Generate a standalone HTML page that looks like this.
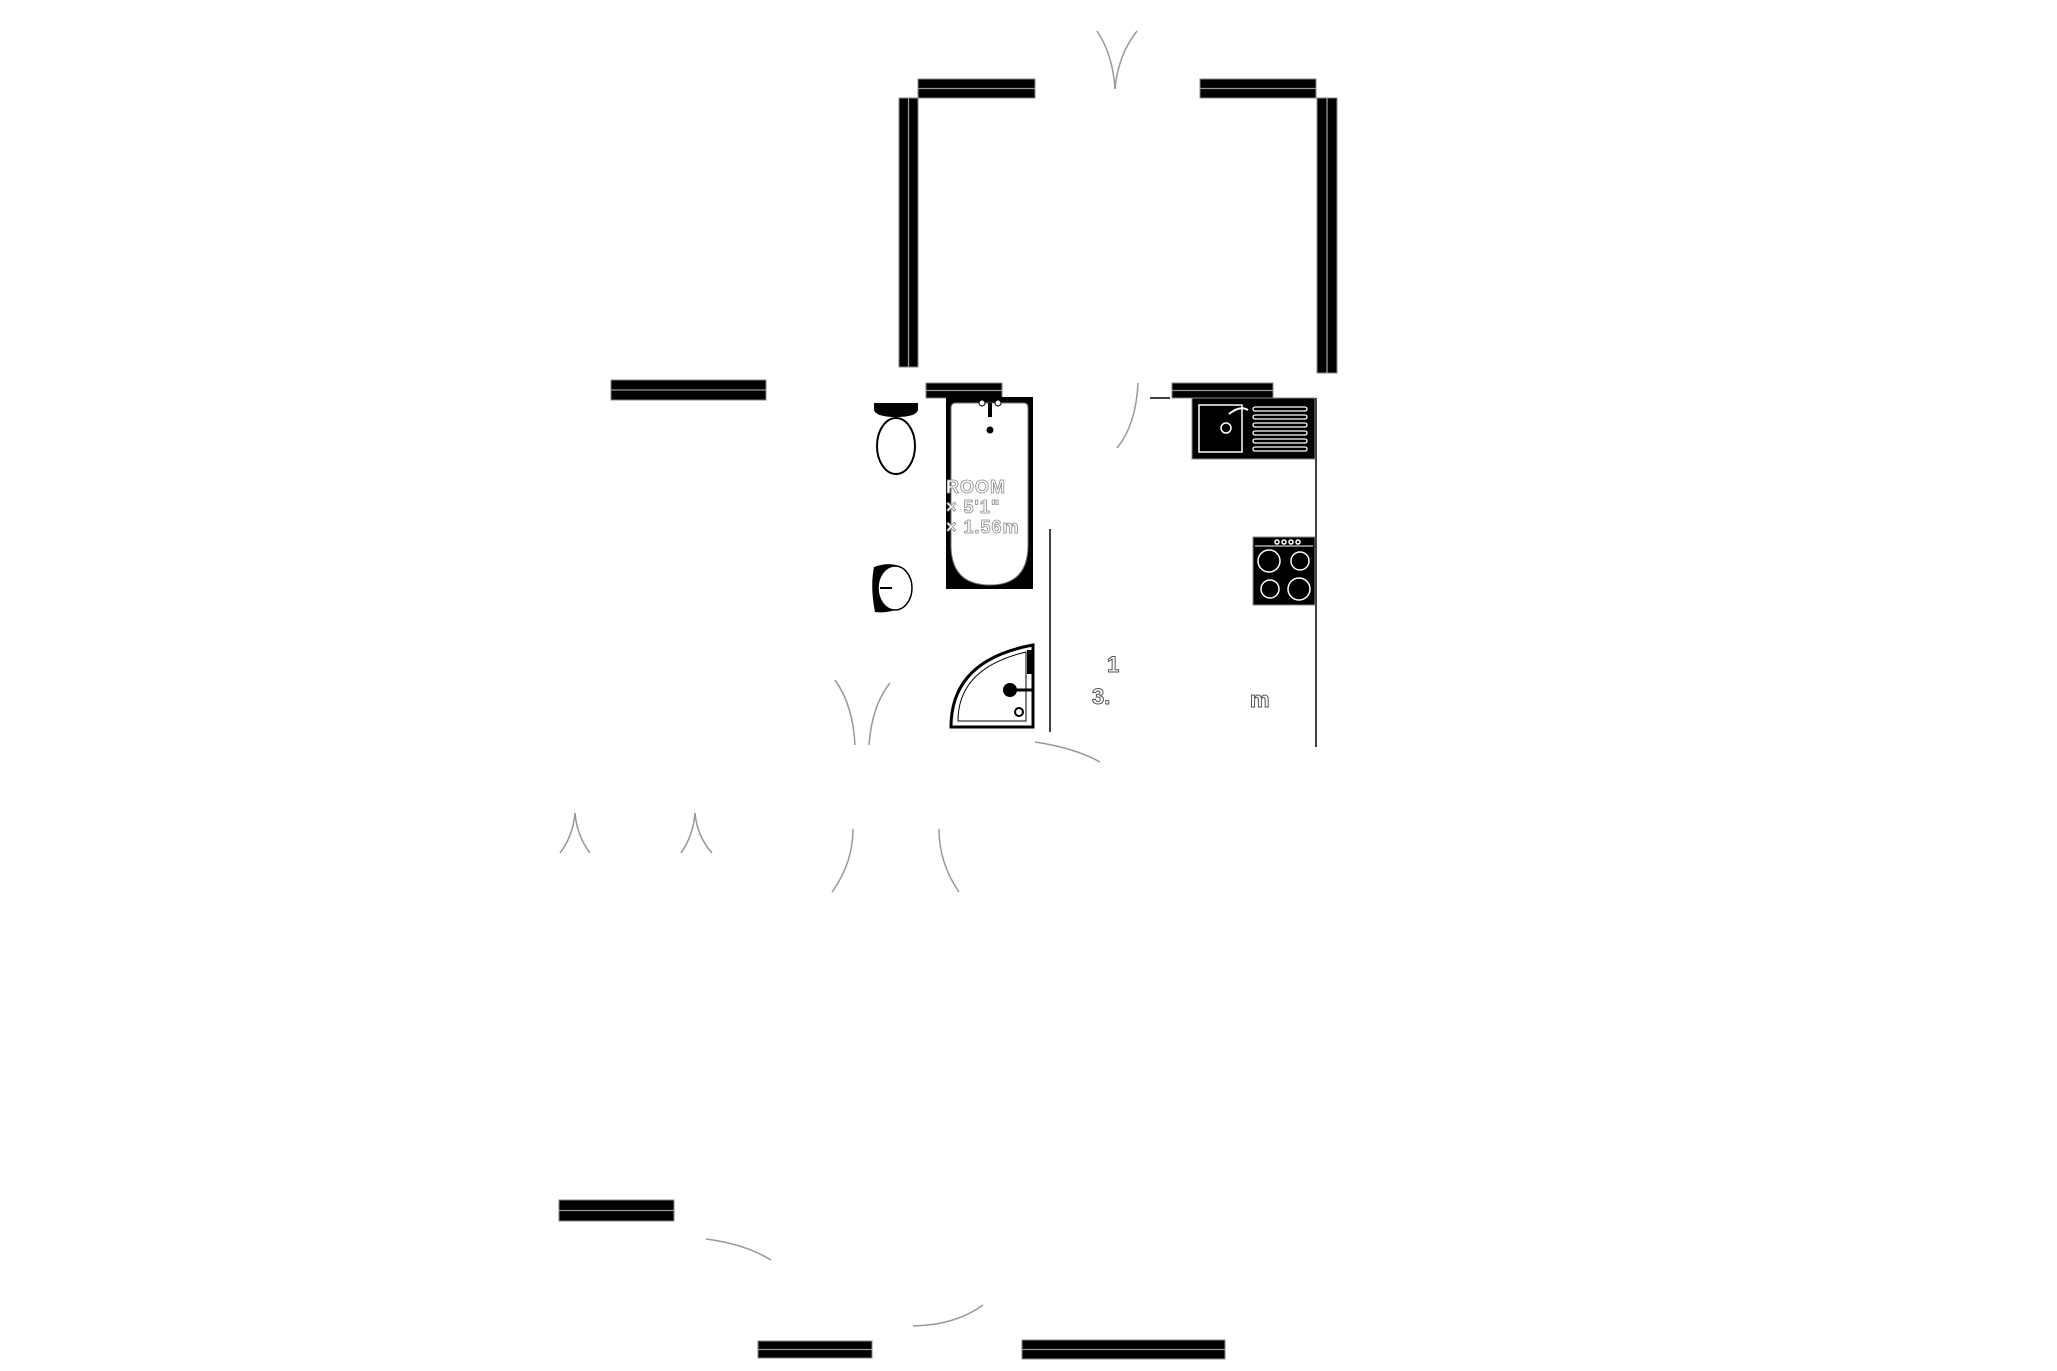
<!DOCTYPE html>
<html><head><meta charset="utf-8"><style>html,body{margin:0;padding:0;background:#fff}svg{display:block}</style></head>
<body>
<svg width="2057" height="1371" viewBox="0 0 2057 1371" xmlns="http://www.w3.org/2000/svg">
<g fill="#000" stroke="#888" stroke-width="1">
<rect x="918" y="79" width="117" height="19"/>
<rect x="1200" y="79" width="116" height="19"/>
<rect x="611" y="380" width="155" height="20"/>
<rect x="926" y="383" width="76" height="15"/>
<rect x="1172" y="383" width="101" height="15"/>
<rect x="559" y="1200" width="115" height="21"/>
<rect x="758" y="1341" width="114" height="17"/>
<rect x="1022" y="1340" width="203" height="19"/>
<rect x="899" y="98" width="19" height="269"/>
<rect x="1317" y="98" width="20" height="275"/>
</g>
<g stroke="#999" stroke-width="1.3">
<line x1="918" y1="88.5" x2="1035" y2="88.5"/>
<line x1="1200" y1="88.5" x2="1316" y2="88.5"/>
<line x1="611" y1="390" x2="766" y2="390"/>
<line x1="926" y1="390.5" x2="1002" y2="390.5"/>
<line x1="1172" y1="390.5" x2="1273" y2="390.5"/>
<line x1="559" y1="1210.5" x2="674" y2="1210.5"/>
<line x1="758" y1="1349.5" x2="872" y2="1349.5"/>
<line x1="1022" y1="1349.5" x2="1225" y2="1349.5"/>
<line x1="908.5" y1="98" x2="908.5" y2="367"/>
<line x1="1327" y1="98" x2="1327" y2="373"/>
</g>
<g fill="none" stroke="#999" stroke-width="1.5">
<path d="M1097 31 Q1113 55 1115 89"/>
<path d="M1137 31 Q1118 55 1115 89"/>
<path d="M1138 383 Q1136 425 1117 448"/>
<path d="M835 680 Q853 705 855 745"/>
<path d="M890 683 Q872 705 869 745"/>
<path d="M575 813 Q573 836 560 853"/>
<path d="M575 813 Q577 836 590 853"/>
<path d="M695 813 Q693 836 681 853"/>
<path d="M695 813 Q697 836 712 853"/>
<path d="M853 829 Q853 863 832 892"/>
<path d="M939 829 Q939 863 959 892"/>
<path d="M706 1239 Q745 1244 771 1260"/>
<path d="M913 1326 Q956 1325 983 1305"/>
<path d="M1035 742 Q1075 748 1100 762"/>
</g>
<g stroke="#000" stroke-width="1.5">
<line x1="1050" y1="529" x2="1050" y2="732"/>
<line x1="1316" y1="398" x2="1316" y2="747"/>
<line x1="1150" y1="398" x2="1170" y2="398"/>
</g>
<!-- toilet -->
<path d="M874 403 H918 V410 Q916 417 896 417 Q876 417 874 410 Z" fill="#000"/>
<ellipse cx="896" cy="446" rx="19" ry="28" fill="#fff" stroke="#000" stroke-width="2"/>
<!-- bath -->
<rect x="946" y="397" width="87" height="192" fill="#000"/>
<path d="M956 403 H1024 Q1028 403 1028 408 V545 Q1028 585 990 585 Q951 585 951 545 V408 Q951 403 956 403 Z" fill="#fff" stroke="#777"/>
<rect x="988" y="403" width="4" height="14" fill="#000"/>
<circle cx="990" cy="430" r="3.5" fill="#000"/>
<circle cx="982" cy="403" r="3" fill="#fff" stroke="#000"/>
<circle cx="998" cy="403" r="3" fill="#fff" stroke="#000"/>
<g font-family="Liberation Sans, sans-serif" font-size="18" fill="#fff" stroke="#888" stroke-width="0.8" font-weight="bold" letter-spacing="1">
<text x="946" y="493">ROOM</text>
<text x="946" y="513">× 5'1"</text>
<text x="946" y="533">× 1.56m</text>
</g>
<!-- basin -->
<path d="M874 567 Q893 560 906 570 Q912 587 906 604 Q893 614 875 612 Q870 587 874 567Z" fill="#000"/>
<ellipse cx="895" cy="588" rx="17" ry="22" fill="#fff" stroke="#000" stroke-width="1.5"/>
<line x1="880" y1="588" x2="892" y2="588" stroke="#000" stroke-width="2"/>
<!-- shower -->
<path d="M1033 645 V727 H951 Q951 660 1033 645Z" fill="#fff" stroke="#000" stroke-width="3"/>
<path d="M1026 652 V721 H958 Q958 668 1026 652Z" fill="none" stroke="#000" stroke-width="1"/>
<rect x="1027" y="650" width="6" height="24" fill="#000"/>
<circle cx="1010" cy="690" r="7" fill="#000"/>
<line x1="1010" y1="690" x2="1033" y2="690" stroke="#000" stroke-width="3"/>
<circle cx="1019" cy="712" r="4" fill="#fff" stroke="#000" stroke-width="2"/>
<!-- kitchen sink -->
<rect x="1192" y="398" width="123" height="61" fill="#000" stroke="#888"/>
<rect x="1199" y="405" width="43" height="47" fill="none" stroke="#fff" stroke-width="1.5"/>
<circle cx="1226" cy="428" r="5" fill="none" stroke="#fff" stroke-width="1.5"/>
<path d="M1229 414 Q1240 405 1248 410" fill="none" stroke="#fff" stroke-width="2"/>
<g fill="none" stroke="#fff" stroke-width="1.3">
<rect x="1253" y="407" width="54" height="4" rx="2"/>
<rect x="1253" y="415" width="54" height="4" rx="2"/>
<rect x="1253" y="423" width="54" height="4" rx="2"/>
<rect x="1253" y="431" width="54" height="4" rx="2"/>
<rect x="1253" y="439" width="54" height="4" rx="2"/>
<rect x="1253" y="447" width="54" height="4" rx="2"/>
</g>
<!-- hob -->
<rect x="1253" y="537" width="62" height="68" fill="#000" stroke="#888"/>
<line x1="1255" y1="546" x2="1313" y2="546" stroke="#fff"/>
<g fill="none" stroke="#fff" stroke-width="1.5">
<circle cx="1269" cy="561" r="11"/><circle cx="1300" cy="561" r="9"/>
<circle cx="1270" cy="589" r="9"/><circle cx="1299" cy="589" r="11"/>
<circle cx="1277" cy="542" r="2"/><circle cx="1284" cy="542" r="2"/><circle cx="1291" cy="542" r="2"/><circle cx="1298" cy="542" r="2"/>
</g>
<g font-family="Liberation Sans, sans-serif" font-size="22" fill="#fff" stroke="#555" stroke-width="1" font-weight="bold">
<text x="1107" y="672">1</text>
<text x="1092" y="704">3.</text>
<text x="1250" y="707">m</text>
</g>
</svg>
</body></html>
